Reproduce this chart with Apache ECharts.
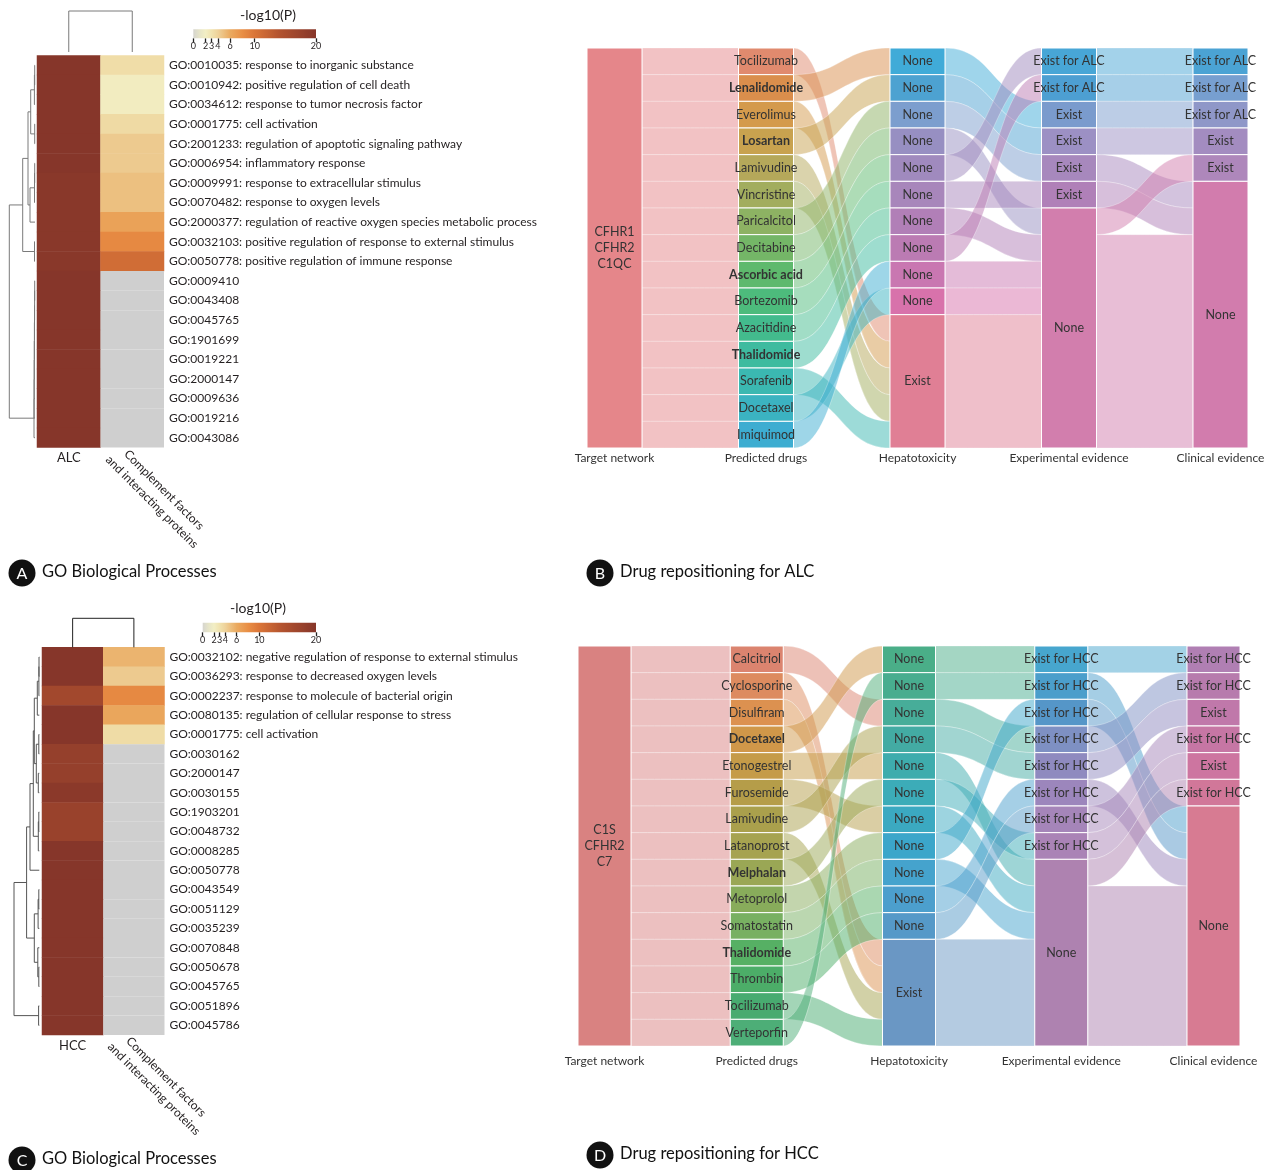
<!DOCTYPE html>
<html>
<head>
<meta charset="utf-8">
<script src="https://cdn.jsdelivr.net/npm/echarts@6/dist/echarts.min.js"></script>
<style>
  html, body { margin: 0; padding: 0; background: #fff; }
  #main { width: 1272px; height: 1170px; }
</style>
</head>
<body>
<div id="main"></div>
<script>
// ===================== Panel A: GO enrichment (ALC) =====================
const goTermsA = [
  'GO:0010035: response to inorganic substance',
  'GO:0010942: positive regulation of cell death',
  'GO:0034612: response to tumor necrosis factor',
  'GO:0001775: cell activation',
  'GO:2001233: regulation of apoptotic signaling pathway',
  'GO:0006954: inflammatory response',
  'GO:0009991: response to extracellular stimulus',
  'GO:0070482: response to oxygen levels',
  'GO:2000377: regulation of reactive oxygen species metabolic process',
  'GO:0032103: positive regulation of response to external stimulus',
  'GO:0050778: positive regulation of immune response',
  'GO:0009410', 'GO:0043408', 'GO:0045765', 'GO:1901699', 'GO:0019221',
  'GO:2000147', 'GO:0009636', 'GO:0019216', 'GO:0043086'
];
const alcScores = [20, 20, 20, 20, 20, 20, 19.6, 19.6, 19.6, 19.6, 19.6,
                   20, 20, 20, 20, 20, 20, 20, 20, 20];
const complementScoresA = [3.3, 2.2, 2.2, 3.5, 4.4, 4.4, 4.9, 4.9, 6.6, 8.4, 11,
                           null, null, null, null, null, null, null, null, null];
const columnsA = ['ALC', 'Complement factors\nand interacting proteins'];

// ===================== Panel C: GO enrichment (HCC) =====================
const goTermsC = [
  'GO:0032102: negative regulation of response to external stimulus',
  'GO:0036293: response to decreased oxygen levels',
  'GO:0002237: response to molecule of bacterial origin',
  'GO:0080135: regulation of cellular response to stress',
  'GO:0001775: cell activation',
  'GO:0030162', 'GO:2000147', 'GO:0030155', 'GO:1903201', 'GO:0048732',
  'GO:0008285', 'GO:0050778', 'GO:0043549', 'GO:0051129', 'GO:0035239',
  'GO:0070848', 'GO:0050678', 'GO:0045765', 'GO:0051896', 'GO:0045786'
];
const hccScores = [20, 20, 16.2, 20, 20, 18, 18, 19.4, 17.5, 17.5,
                   20, 20, 20, 20, 20, 20, 20, 20, 20, 20];
const complementScoresC = [5.5, 4.4, 8.4, 6.3, 3.4,
                           null, null, null, null, null, null, null, null, null, null,
                           null, null, null, null, null];
const columnsC = ['HCC', 'Complement factors\nand interacting proteins'];

// colour bar ticks for -log10(P)
const colorBarTicks = [0, 2, 3, 4, 6, 10, 20];

// hierarchical clustering of the rows: [height, left, right], leaves are row indices
const rowTreeA = [25.7,
  [12.3,
    [7, [4.3, [0.6, [0.3, 0, 1], 2], [0.3, 3, 4]], [5, [0.5, [0.3, 5, 6], 7], 8]],
    [0.5, 9, 10]],
  [1.0, [0.9, [0.8, [0.7, [0.6, [0.5, [0.4, [0.3, 11, 12], 13], 14], 15], 16], 17], 18], 19]
];
const rowTreeC = [25.3,
  [12.7,
    [9.3,
      [6, [5, [2, [0.4, [0.3, 0, 1], 2], 3], [3, [0.5, 4, 5], [1, 6, 7]]], [1, [0.5, 8, 9], 10]],
      11],
    [5, [1.2, [0.5, 12, 13], 14], [1.5, 15, [0.5, 16, 17]]]],
  [0.7, 18, 19]
];
// the two columns are joined by a single merge
const colTree = [1, 0, 1];

// ===================== Panel B: drug repositioning (ALC) =====================
const targetB = 'CFHR1\nCFHR2\nC1QC';
const drugsB = ['Tocilizumab', 'Lenalidomide', 'Everolimus', 'Losartan', 'Lamivudine',
  'Vincristine', 'Paricalcitol', 'Decitabine', 'Ascorbic acid', 'Bortezomib',
  'Azacitidine', 'Thalidomide', 'Sorafenib', 'Docetaxel', 'Imiquimod'];
const boldDrugsB = ['Lenalidomide', 'Losartan', 'Ascorbic acid', 'Thalidomide'];
const hepatoB = ['None', 'None', 'None', 'None', 'None', 'None', 'None', 'None', 'None', 'None', 'Exist'];
const experimentalB = ['Exist for ALC', 'Exist for ALC', 'Exist', 'Exist', 'Exist', 'Exist', 'None'];
const clinicalB = ['Exist for ALC', 'Exist for ALC', 'Exist for ALC', 'Exist', 'Exist', 'None'];
// hepatotoxicity node reached by each drug (one unit per drug)
const drugHepatoB = [10, 0, 10, 1, 10, 10, 2, 3, 4, 5, 6, 7, 10, 9, 8];
// [from, to, count]
const hepatoExperimentalB = [[0, 2, 1], [1, 3, 1], [2, 4, 1], [3, 6, 1], [4, 0, 1], [5, 5, 1],
  [6, 6, 1], [7, 1, 1], [8, 6, 1], [9, 6, 1], [10, 6, 5]];
const experimentalClinicalB = [[0, 0, 1], [1, 1, 1], [2, 2, 1], [3, 3, 1], [4, 5, 1], [5, 5, 1],
  [6, 4, 1], [6, 5, 8]];

// ===================== Panel D: drug repositioning (HCC) =====================
const targetD = 'C1S\nCFHR2\nC7';
const drugsD = ['Calcitriol', 'Cyclosporine', 'Disulfiram', 'Docetaxel', 'Etonogestrel',
  'Furosemide', 'Lamivudine', 'Latanoprost', 'Melphalan', 'Metoprolol',
  'Somatostatin', 'Thalidomide', 'Thrombin', 'Tocilizumab', 'Verteporfin'];
const boldDrugsD = ['Docetaxel', 'Melphalan', 'Thalidomide'];
const hepatoD = ['None', 'None', 'None', 'None', 'None', 'None', 'None', 'None', 'None', 'None', 'None', 'Exist'];
const experimentalD = ['Exist for HCC', 'Exist for HCC', 'Exist for HCC', 'Exist for HCC',
  'Exist for HCC', 'Exist for HCC', 'Exist for HCC', 'Exist for HCC', 'None'];
const clinicalD = ['Exist for HCC', 'Exist for HCC', 'Exist', 'Exist for HCC', 'Exist', 'Exist for HCC', 'None'];
const drugHepatoD = [2, 11, 11, 0, 4, 6, 3, 11, 5, 7, 8, 9, 10, 11, 1];
const hepatoExperimentalD = [[0, 0, 1], [1, 1, 1], [2, 3, 1], [3, 4, 1], [4, 8, 1], [5, 7, 1],
  [6, 8, 1], [7, 2, 1], [8, 8, 1], [9, 5, 1], [10, 6, 1], [11, 8, 4]];
const experimentalClinicalD = [[0, 0, 1], [1, 6, 1], [2, 6, 1], [3, 1, 1], [4, 2, 1], [5, 6, 1],
  [6, 3, 1], [7, 4, 1], [8, 5, 1], [8, 6, 6]];

const sankeyTitles = ['Target network', 'Predicted drugs', 'Hepatotoxicity', 'Experimental evidence', 'Clinical evidence'];

// ===================== styling =====================
const FONT = 'Lato';
const TEXT = '#231f20';

const colorsB = {
  target: '#e5868a',
  drugs: ['#e08a6e', '#da8e4c', '#d49a4c', '#c8a24f', '#b5a85a', '#a2ad5e', '#8db263', '#74b667',
          '#5eb96d', '#4dbb7c', '#43bb8d', '#3ebb9f', '#3bb8b1', '#3bb3c1', '#3dadd1'],
  hepato: ['#40abd8', '#4da2d1', '#7c9ece', '#978fc2', '#a08abe', '#a886bb', '#b17fb7', '#bb7bb3',
           '#c977b1', '#d872ab', '#e07f95'],
  experimental: ['#48a6d6', '#4d9fd2', '#7a9bcd', '#9c90c4', '#a788bd', '#b080b8', '#d27ead'],
  clinical: ['#4ba3d4', '#779fd0', '#8f97c8', '#a38cc0', '#ae87bb', '#d27cad']
};
const colorsD = {
  target: '#d98281',
  drugs: ['#db846f', '#dd8b5f', '#dc9150', '#d09749', '#c59b48', '#b59d49', '#aaa04c', '#a6a350',
          '#9aa755', '#88ac5b', '#78b062', '#56b064', '#4cad68', '#48ab70', '#4dae77'],
  hepato: ['#4aae88', '#48ad8f', '#47ad99', '#43aba3', '#3eacad', '#3cacb8', '#3ba9c1', '#3ba6ca',
           '#45a3cd', '#4c9fcd', '#5599c8', '#6a97c4'],
  experimental: ['#47a6ce', '#4b9ecb', '#5596c8', '#7e90c3', '#8f8abf', '#9c86bc', '#a585b9', '#aa83b6', '#ae82b0'],
  clinical: ['#b07fb3', '#b77bad', '#c078aa', '#c676a4', '#cd75a0', '#d17799', '#d77b92']
};

// -log10(P) colour ramp (grey -> pale yellow -> orange -> brown)
const scoreStops = [[0, '#d6d5cf'], [1, '#e6e4c8'], [2, '#f2eec4'], [3, '#f0e2ae'], [4, '#eed29a'],
  [6, '#eaaa60'], [8, '#e98e45'], [10, '#da7538'], [14, '#b3532f'], [20, '#86362a']];
function hexToRgb(h) { return [1, 3, 5].map(i => parseInt(h.slice(i, i + 2), 16)); }
function scoreColor(v) {
  for (let k = 1; k < scoreStops.length; k++) {
    const [v0, c0] = scoreStops[k - 1], [v1, c1] = scoreStops[k];
    if (v <= v1) {
      const t = (v - v0) / (v1 - v0), a = hexToRgb(c0), b = hexToRgb(c1);
      return 'rgb(' + a.map((x, i) => Math.round(x + (b[i] - x) * t)).join(',') + ')';
    }
  }
  return scoreStops[scoreStops.length - 1][1];
}
const scorePalette = Array.from({ length: 81 }, (_, i) => scoreColor(i * 0.25));

// ===================== helpers =====================
function heatCells(first, second) {
  const cells = [], missing = [];
  first.forEach((v, r) => cells.push([0, r, v]));
  second.forEach((v, r) => (v == null ? missing.push([1, r]) : cells.push([1, r, v])));
  return { cells, missing };
}

function dendroSegments(tree) {
  const segs = [];
  (function walk(n) {
    if (typeof n === 'number') return { pos: n, h: 0 };
    const a = walk(n[1]), b = walk(n[2]);
    segs.push([a.h, a.pos, n[0], b.pos, b.h]);
    return { pos: (a.pos + b.pos) / 2, h: n[0] };
  })(tree);
  return segs;
}

function dendroSeries(grid, tree, horizontal, color) {
  return {
    type: 'custom', xAxisIndex: grid, yAxisIndex: grid, silent: true,
    data: dendroSegments(tree),
    renderItem: (params, api) => {
      const hL = api.value(0), pL = api.value(1), h = api.value(2), pR = api.value(3), hR = api.value(4);
      const pt = (hh, pp) => api.coord(horizontal ? [hh, pp] : [pp, hh]);
      return {
        type: 'polyline',
        shape: { points: [pt(hL, pL), pt(h, pL), pt(h, pR), pt(hR, pR)] },
        style: { stroke: color, lineWidth: 1, fill: null }
      };
    }
  };
}

function missingSeries(grid, data) {
  return {
    type: 'custom', xAxisIndex: grid, yAxisIndex: grid, silent: true, data,
    renderItem: (params, api) => {
      const c = api.coord([api.value(0), api.value(1)]), s = api.size([1, 1]);
      return { type: 'rect', shape: { x: c[0] - s[0] / 2, y: c[1] - s[1] / 2, width: s[0], height: s[1] },
               style: { fill: '#cfcfcf' } };
    }
  };
}

function colorBarSeries(grid) {
  const stops = scorePalette.map((c, i) => ({ offset: i / (scorePalette.length - 1), color: c }));
  return {
    type: 'custom', xAxisIndex: grid, yAxisIndex: grid, silent: true,
    data: [[colorBarTicks[0], colorBarTicks[colorBarTicks.length - 1]]],
    renderItem: (params, api) => {
      const a = api.coord([api.value(0), 1]), b = api.coord([api.value(1), 0]);
      return { type: 'rect', shape: { x: a[0], y: a[1], width: b[0] - a[0], height: b[1] - a[1] },
               style: { fill: new echarts.graphic.LinearGradient(0, 0, 1, 0, stops) } };
    }
  };
}

function buildSankey(key, target, drugs, bold, hepato, experimental, clinical,
                     drugHepato, hepExp, expClin, colors) {
  const id = (col, i) => key + col + '_' + i;
  const nodes = [];
  const addNode = (col, i, text, color, extra) =>
    nodes.push({ name: id(col, i), label: Object.assign({ formatter: text }, extra || {}), itemStyle: { color } });
  addNode(0, 0, target, colors.target, { lineHeight: 16 });
  drugs.forEach((d, i) => addNode(1, i, d, colors.drugs[i], { fontWeight: bold.includes(d) ? 'bold' : 'normal' }));
  hepato.forEach((t, i) => addNode(2, i, t, colors.hepato[i]));
  experimental.forEach((t, i) => addNode(3, i, t, colors.experimental[i]));
  clinical.forEach((t, i) => addNode(4, i, t, colors.clinical[i]));
  const links = [];
  drugs.forEach((d, i) => links.push({ source: id(0, 0), target: id(1, i), value: 1 }));
  drugHepato.forEach((h, i) => links.push({ source: id(1, i), target: id(2, h), value: 1 }));
  hepExp.forEach(([s, t, v]) => links.push({ source: id(2, s), target: id(3, t), value: v }));
  expClin.forEach(([s, t, v]) => links.push({ source: id(3, s), target: id(4, t), value: v }));
  return { nodes, links };
}

function sankeySeries(box, graph) {
  return {
    type: 'sankey', left: box.left, top: box.top, width: box.width, height: box.height,
    nodeWidth: box.nodeWidth, nodeGap: 0, layoutIterations: 0, draggable: false,
    emphasis: { disabled: true },
    data: graph.nodes, links: graph.links,
    label: { show: true, position: 'inside', color: '#333', fontFamily: FONT, fontSize: 12.5 },
    itemStyle: { borderColor: '#fff', borderWidth: 1 },
    lineStyle: { color: 'source', opacity: 0.5, curveness: 0.5, borderColor: '#fff', borderWidth: 0.6 }
  };
}

function sankeyTitleGraphics(box, y) {
  const step = (box.width - box.nodeWidth) / (sankeyTitles.length - 1);
  return sankeyTitles.map((t, i) => ({
    type: 'text', x: box.left + box.nodeWidth / 2 + i * step, y,
    style: { text: t, font: '12px ' + FONT, fill: '#333', align: 'center', verticalAlign: 'middle' }
  }));
}

function panelTag(letter, cx, cy, title) {
  return [
    { type: 'circle', shape: { cx, cy, r: 13.5 }, style: { fill: '#111' } },
    { type: 'text', x: cx, y: cy + 1, style: { text: letter, font: '16px ' + FONT, fill: '#fff', align: 'center', verticalAlign: 'middle' } },
    { type: 'text', x: cx + 20, y: cy - 1, style: { text: title, font: '16.5px ' + FONT, fill: '#111', align: 'left', verticalAlign: 'middle' } }
  ];
}

// ===================== layout boxes =====================
const heatBoxA = { left: 37, top: 55.5, width: 127, height: 392 };
const heatBoxC = { left: 42, top: 647.3, width: 122.5, height: 387.7 };
const sankeyBoxB = { left: 587, top: 48, width: 661, height: 400, nodeWidth: 55 };
const sankeyBoxD = { left: 578, top: 646, width: 662, height: 400, nodeWidth: 53 };

const heatA = heatCells(alcScores, complementScoresA);
const heatC = heatCells(hccScores, complementScoresC);
const graphB = buildSankey('B', targetB, drugsB, boldDrugsB, hepatoB, experimentalB, clinicalB,
  drugHepatoB, hepatoExperimentalB, experimentalClinicalB, colorsB);
const graphD = buildSankey('D', targetD, drugsD, boldDrugsD, hepatoD, experimentalD, clinicalD,
  drugHepatoD, hepatoExperimentalD, experimentalClinicalD, colorsD);

// grids: 0 heat A, 1 row tree A, 2 column tree A, 3 colour bar A, 4..7 same for C
const grids = [
  heatBoxA,
  { left: 5, top: heatBoxA.top, width: 30, height: heatBoxA.height },
  { left: heatBoxA.left, top: 11, width: heatBoxA.width, height: 41 },
  { left: 193.3, top: 29.3, width: 122.7, height: 9 },
  heatBoxC,
  { left: 9.3, top: heatBoxC.top, width: 30, height: heatBoxC.height },
  { left: heatBoxC.left, top: 618.3, width: heatBoxC.width, height: 29 },
  { left: 202.7, top: 622.7, width: 113.3, height: 9.6 }
].map(g => Object.assign({ containLabel: false }, g));

const hidden = { show: false };
function heatAxes(gi, columns, terms) {
  return {
    x: { gridIndex: gi, type: 'category', data: columns, axisLine: hidden, axisTick: hidden, splitLine: hidden,
         axisLabel: { interval: 0, margin: 4, fontSize: 13, color: TEXT, fontFamily: FONT, formatter: (v, i) => (i === 0 ? v : '') } },
    y: { gridIndex: gi, type: 'category', data: terms, inverse: true, position: 'right',
         axisLine: hidden, axisTick: hidden, splitLine: hidden,
         axisLabel: { interval: 0, margin: 5, fontSize: 12, color: TEXT, fontFamily: FONT } }
  };
}
function rowTreeAxes(gi, rows) {
  return {
    x: { gridIndex: gi, type: 'value', show: false, min: 0, max: 30, inverse: true },
    y: { gridIndex: gi, type: 'value', show: false, min: -0.5, max: rows - 0.5, inverse: true }
  };
}
function colTreeAxes(gi) {
  return {
    x: { gridIndex: gi, type: 'value', show: false, min: -0.5, max: 1.5 },
    y: { gridIndex: gi, type: 'value', show: false, min: 0, max: 1 }
  };
}
function colorBarAxes(gi) {
  return {
    x: { gridIndex: gi, type: 'value', min: 0, max: 20, position: 'bottom',
         axisLine: hidden, splitLine: hidden,
         axisTick: { show: true, customValues: colorBarTicks, length: 4, lineStyle: { color: '#222', width: 1.3 } },
         axisLabel: { customValues: colorBarTicks, margin: 3, fontSize: 9, color: TEXT, fontFamily: FONT } },
    y: { gridIndex: gi, type: 'value', show: false, min: 0, max: 1 }
  };
}
const axes = [
  heatAxes(0, columnsA, goTermsA), rowTreeAxes(1, goTermsA.length), colTreeAxes(2), colorBarAxes(3),
  heatAxes(4, columnsC, goTermsC), rowTreeAxes(5, goTermsC.length), colTreeAxes(6), colorBarAxes(7)
];

const series = [
  { type: 'heatmap', xAxisIndex: 0, yAxisIndex: 0, data: heatA.cells, emphasis: { disabled: true } },
  missingSeries(0, heatA.missing),
  dendroSeries(1, rowTreeA, true, '#7a7a7a'),
  dendroSeries(2, colTree, false, '#7a7a7a'),
  colorBarSeries(3),
  { type: 'heatmap', xAxisIndex: 4, yAxisIndex: 4, data: heatC.cells, emphasis: { disabled: true } },
  missingSeries(4, heatC.missing),
  dendroSeries(5, rowTreeC, true, '#555'),
  dendroSeries(6, colTree, false, '#222'),
  colorBarSeries(7),
  sankeySeries(sankeyBoxB, graphB),
  sankeySeries(sankeyBoxD, graphD)
];

const graphics = [
  { type: 'text', x: 268, y: 15, style: { text: '-log10(P)', font: '14px ' + FONT, fill: TEXT, align: 'center', verticalAlign: 'middle' } },
  { type: 'text', x: 258, y: 608, style: { text: '-log10(P)', font: '14px ' + FONT, fill: TEXT, align: 'center', verticalAlign: 'middle' } },
  { type: 'text', x: 158, y: 496, rotation: -Math.PI / 4,
    style: { text: columnsA[1], font: '12px ' + FONT, fill: TEXT, align: 'center', verticalAlign: 'middle', lineHeight: 17 } },
  { type: 'text', x: 160, y: 1083, rotation: -Math.PI / 4,
    style: { text: columnsC[1], font: '12px ' + FONT, fill: TEXT, align: 'center', verticalAlign: 'middle', lineHeight: 17 } },
  ...sankeyTitleGraphics(sankeyBoxB, 458),
  ...sankeyTitleGraphics(sankeyBoxD, 1061),
  ...panelTag('A', 22, 573, 'GO Biological Processes'),
  ...panelTag('B', 600, 573, 'Drug repositioning for ALC'),
  ...panelTag('C', 22, 1160, 'GO Biological Processes'),
  ...panelTag('D', 600, 1155, 'Drug repositioning for HCC')
];

const chart = echarts.init(document.getElementById('main'), null, { renderer: 'canvas' });
chart.setOption({
  animation: false,
  backgroundColor: '#fff',
  textStyle: { fontFamily: FONT },
  grid: grids,
  xAxis: axes.map(a => a.x),
  yAxis: axes.map(a => a.y),
  visualMap: [{ type: 'continuous', show: false, min: 0, max: 20, seriesIndex: [0, 5],
                inRange: { color: scorePalette } }],
  series,
  graphic: graphics
});
</script>
</body>
</html>
